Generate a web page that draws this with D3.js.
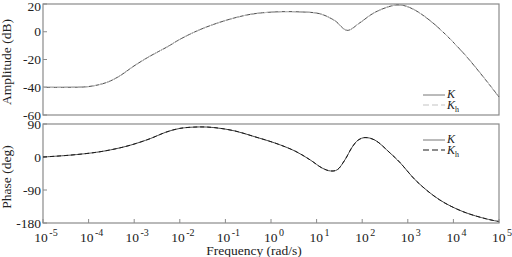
<!DOCTYPE html>
<html>
<head>
<meta charset="utf-8">
<script src="https://cdn.jsdelivr.net/npm/d3@7"></script>
<style>
  body { margin: 0; background: #fff; }
  svg { display: block; font-family: "Liberation Serif", "Times New Roman", Times, serif; }
</style>
</head>
<body>
<script>
// log10 of frequency (rad/s) and amplitude in dB
var ampLogF = [-5, -4.5, -4.0, -3.6, -3.3, -3.03, -2.65, -2.28, -2.0, -1.56, -1.01, -0.46, 0.09, 0.64, 1.07, 1.40, 1.67, 1.95, 2.28, 2.76, 3.04, 3.49, 4.21, 5.0];
var ampDB   = [-40, -40, -39.5, -36.5, -31.5, -25.2, -17.5, -11, -5.5, 1.5, 8, 12.5, 14.3, 14.3, 13, 8, 1, 6.5, 14, 19.3, 17.5, 8, -15, -47];

// log10 of frequency (rad/s) and phase in degrees
var phLogF = [-5, -4.41, -3.82, -3.42, -3.09, -2.65, -2.32, -2.0, -1.56, -1.23, -0.79, -0.35, 0.09, 0.53, 0.86, 1.12, 1.30, 1.45, 1.62, 1.78, 1.91, 2.06, 2.28, 2.61, 2.82, 3.20, 3.70, 4.21, 4.73, 5.0];
var phDeg  = [0, 5, 13, 22, 32, 50, 67, 78, 82, 80, 71, 55, 38, 16, -8, -30, -38, -35, -8, 27, 46, 53, 46, 11, -14, -67, -117, -149, -169, -176];

var xExps = [-5, -4, -3, -2, -1, 0, 1, 2, 3, 4, 5];
var ampTicks = [20, 0, -20, -40, -60];
var phTicks = [90, 0, -90, -180];
var legendNames = ["K", "K"];

var W = 512, H = 257;
var left = 43, right = 499;

var svg = d3.select("body").append("svg").attr("width", W).attr("height", H);

// 横轴 对数频率
var x = d3.scaleLog().domain([1e-5, 1e5]).range([left, right]);
var yA = d3.scaleLinear().domain([-60, 20]).range([115, 4]);
var yP = d3.scaleLinear().domain([-180, 90]).range([223, 124]);

function panel(y, ticks, logF, vals, dashColor, legY) {
    var top = y.range()[1], bot = y.range()[0];
    svg.append("rect").attr("x", left).attr("y", top).attr("width", right - left).attr("height", bot - top)
        .attr("fill", "none").attr("stroke", "#8a8a8a").attr("stroke-width", 1.2);

    // 纵轴刻度
    svg.selectAll(null).data(ticks).enter().append("line")
        .attr("x1", left).attr("x2", left + 4).attr("y1", y).attr("y2", y)
        .attr("stroke", "#8a8a8a").attr("stroke-width", 1);
    svg.selectAll(null).data(ticks).enter().append("text")
        .attr("x", left - 2).attr("y", function (d) { return Math.max(y(d) + 4.5, 11); })
        .attr("text-anchor", "end").attr("font-size", 13.5).attr("fill", "#222")
        .text(function (d) { return d; });

    var pts = logF.map(function (f, i) { return [Math.pow(10, f), vals[i]]; });
    var line = d3.line().x(function (d) { return x(d[0]); }).y(function (d) { return y(d[1]); })
        .curve(d3.curveCatmullRom.alpha(0.5));

    svg.append("path").attr("d", line(pts)).attr("fill", "none")
        .attr("stroke", "#4a4a4a").attr("stroke-width", 1);
    svg.append("path").attr("d", line(pts)).attr("fill", "none")
        .attr("stroke", dashColor).attr("stroke-width", 1).attr("stroke-dasharray", "4,3");

    // 图例
    var lx = 423;
    svg.append("line").attr("x1", lx).attr("x2", lx + 22).attr("y1", legY).attr("y2", legY)
        .attr("stroke", "#777").attr("stroke-width", 1);
    svg.append("line").attr("x1", lx).attr("x2", lx + 22).attr("y1", legY + 10).attr("y2", legY + 10)
        .attr("stroke", dashColor).attr("stroke-width", 1.2).attr("stroke-dasharray", "6,3");
    svg.append("text").attr("x", lx + 24).attr("y", legY + 3).attr("font-size", 12)
        .attr("font-style", "italic").attr("fill", "#222").text(legendNames[0]);
    var t = svg.append("text").attr("x", lx + 24).attr("y", legY + 14).attr("font-size", 12)
        .attr("font-style", "italic").attr("fill", "#222").text(legendNames[1]);
    t.append("tspan").attr("font-size", 8).attr("font-style", "normal").attr("dy", 2.5).text("h");
}

panel(yA, ampTicks, ampLogF, ampDB, "#c4c4c4", 95);
panel(yP, phTicks, phLogF, phDeg, "#1a1a1a", 140);

// 横轴刻度
svg.selectAll(null).data(xExps).enter().append("line")
    .attr("x1", function (d) { return x(Math.pow(10, d)); })
    .attr("x2", function (d) { return x(Math.pow(10, d)); })
    .attr("y1", 223).attr("y2", 219).attr("stroke", "#8a8a8a").attr("stroke-width", 1);

var lab = svg.selectAll(null).data(xExps).enter().append("text")
    .attr("x", function (d) { return x(Math.pow(10, d)) + 3; })
    .attr("y", 242).attr("text-anchor", "middle").attr("font-size", 13.5).attr("fill", "#222");
lab.append("tspan").text("10");
lab.append("tspan").attr("font-size", 10).attr("dy", -6).attr("dx", 1.5).text(function (d) { return d; });

svg.append("text").attr("x", 254).attr("y", 255).attr("text-anchor", "middle")
    .attr("font-size", 13.5).attr("fill", "#222").text("Frequency (rad/s)");

svg.append("text").attr("transform", "translate(11,62) rotate(-90)").attr("text-anchor", "middle")
    .attr("font-size", 13.5).attr("fill", "#222").text("Amplitude (dB)");
svg.append("text").attr("transform", "translate(11,177) rotate(-90)").attr("text-anchor", "middle")
    .attr("font-size", 13.5).attr("fill", "#222").text("Phase (deg)");
</script>
</body>
</html>
